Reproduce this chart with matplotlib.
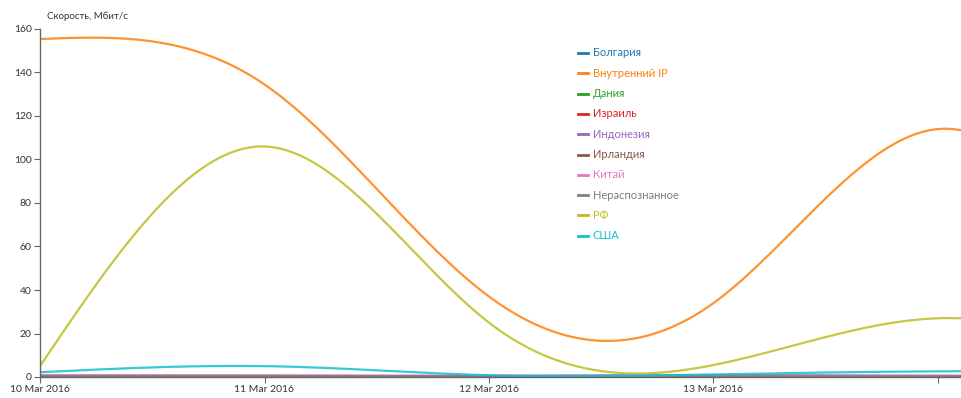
import numpy as np
import matplotlib
matplotlib.use("Agg")
import matplotlib.pyplot as plt
from matplotlib.lines import Line2D

plt.rcParams['font.family'] = ['Lato', 'DejaVu Sans']

# days since 10 Mar 2016 (daily samples)
days = [0, 1, 2, 3, 4, 5]
tick_days = [0, 1, 2, 3, 4]
tick_labels = ['10 Mar 2016', '11 Mar 2016', '12 Mar 2016', '13 Mar 2016', '']

countries = ['Болгария', 'Внутренний IP', 'Дания', 'Израиль', 'Индонезия',
             'Ирландия', 'Китай', 'Нераспознанное', 'РФ', 'США']

bulgaria = [0.3, 0.3, 0.5, 0.8, 0.5, 0.5]
internal_ip = [155.4, 134.5, 37.0, 34.0, 114.0, 25.0]
denmark = [0.0, 0.0, 0.0, 0.0, 0.0, 0.0]
israel = [0.1, 0.1, 0.1, 0.1, 0.1, 0.1]
indonesia = [0.2, 0.2, 0.3, 0.6, 0.3, 0.3]
ireland = [0.1, 0.1, 0.1, 0.1, 0.1, 0.1]
china = [0.9, 0.8, 0.6, 0.5, 0.6, 0.6]
unknown = [0.5, 0.5, 0.3, 0.3, 0.3, 0.3]
russia = [5.0, 106.0, 25.0, 5.5, 27.0, 6.0]
usa = [2.2, 5.0, 0.8, 1.2, 2.6, 2.5]

series = [bulgaria, internal_ip, denmark, israel, indonesia,
          ireland, china, unknown, russia, usa]
colors = ['#1f77b4', '#ff7f0e', '#2ca02c', '#d62728', '#9467bd',
          '#8c564b', '#e377c2', '#7f7f7f', '#bcbd22', '#17becf']


def natural_spline(x, y, n=400):
    """Natural cubic spline through (x, y), like d3.curveNatural."""
    x = np.asarray(x, float)
    y = np.asarray(y, float)
    k = len(x)
    h = np.diff(x)
    A = np.zeros((k, k))
    b = np.zeros(k)
    A[0, 0] = A[-1, -1] = 1
    for i in range(1, k - 1):
        A[i, i - 1] = h[i - 1]
        A[i, i] = 2 * (h[i - 1] + h[i])
        A[i, i + 1] = h[i]
        b[i] = 6 * ((y[i + 1] - y[i]) / h[i] - (y[i] - y[i - 1]) / h[i - 1])
    M = np.linalg.solve(A, b)
    xs = np.linspace(x[0], x[-1], n)
    idx = np.clip(np.searchsorted(x, xs) - 1, 0, k - 2)
    x0, x1 = x[idx], x[idx + 1]
    hh = x1 - x0
    t0 = x1 - xs
    t1 = xs - x0
    ys = (M[idx] * t0 ** 3 / (6 * hh) + M[idx + 1] * t1 ** 3 / (6 * hh)
          + (y[idx] / hh - M[idx] * hh / 6) * t0
          + (y[idx + 1] / hh - M[idx + 1] * hh / 6) * t1)
    return xs, ys


W, H = 962, 398
fig = plt.figure(figsize=(W / 100, H / 100), dpi=100)
left, bottom, top = 40, 377, 29
ax = fig.add_axes([left / W, 1 - bottom / H, (W - left) / W, (bottom - top) / H])

for vals, c in zip(series, colors):
    xs, ys = natural_spline(days, vals)
    ax.plot(xs, ys, color=c, lw=1.6, alpha=0.85, solid_capstyle='butt', clip_on=True)

ax.set_xlim(0, (W - left) / 224.5)
ax.set_ylim(0, 160)
ax.set_yticks(np.arange(0, 161, 20))
ax.set_xticks(tick_days)
ax.set_xticklabels(tick_labels)

for s in ['top', 'right']:
    ax.spines[s].set_visible(False)
for s in ['left', 'bottom']:
    ax.spines[s].set_color('#666666')
    ax.spines[s].set_linewidth(1.0)
ax.tick_params(axis='both', length=4, width=0.8, color='#666666',
               labelsize=7.5, labelcolor='#333333', pad=2)

fig.text(47 / W, 1 - 16 / H, 'Скорость, Мбит/с', fontsize=7, color='#333333',
         va='center', ha='left')

# legend drawn by hand: short colored dash + colored name
for i, (name, c) in enumerate(zip(countries, colors)):
    y = 1 - (53 + i * 20.3) / H
    fig.add_artist(Line2D([578 / W, 588 / W], [y, y], color=c, lw=2.0,
                          transform=fig.transFigure))
    fig.text(593 / W, y, name, fontsize=8, color=c, va='center', ha='left')

fig.savefig('out.png', dpi=100)
